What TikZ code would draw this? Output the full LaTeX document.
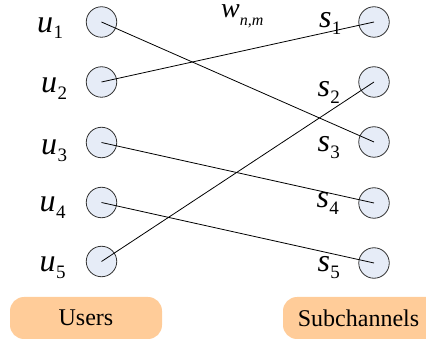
\documentclass[tikz,border=0pt]{standalone}
\usepackage{fontspec}
\setmainfont{Liberation Serif}
\definecolor{nodefill}{HTML}{E6ECF7}
\definecolor{nodeline}{HTML}{333333}
\definecolor{tagfill}{HTML}{FFCC99}
\newcommand\sublabel[3]{\textit{#1}\kern0.3pt\raisebox{-#3}{\fontsize{19}{19}\selectfont #2}}
\tikzset{
  vertex/.style={circle, draw=nodeline, fill=nodefill, line width=0.8pt, minimum size=30.5pt, inner sep=0pt},
  lbl/.style={anchor=base west, inner sep=0pt, font=\fontsize{32}{32}\selectfont},
  tagtext/.style={inner sep=0pt, font=\fontsize{24}{24}\selectfont},
  link/.style={line width=0.8pt, black}
}
\begin{document}
\begin{tikzpicture}[x=1pt, y=-1pt]
  \useasboundingbox (0,0) rectangle (426,339);
  % category tags
  \fill[tagfill, rounded corners=14pt] (10,297) rectangle (162,339);
  \node[tagtext] (users) at (86,318) {Users};
  \begin{scope}
    \clip (0,0) rectangle (426,339);
    \fill[tagfill, rounded corners=14pt] (283,297) rectangle (440,339);
  \end{scope}
  \node[tagtext] (subch) at (358.5,318) {Subchannels};
  % users and subchannels
  \foreach \i/\y in {1/22,2/82,3/142.5,4/202.5,5/261.5} {
    \node[vertex] (u\i) at (101.5,\y) {};
  }
  \foreach \i/\y in {1/22,2/82,3/142,4/203,5/263} {
    \node[vertex] (s\i) at (374,\y) {};
  }
  % assignments
  \draw[link] (u1.center) -- (s3.center);
  \draw[link] (u2.center) -- (s1.center);
  \draw[link] (u3.center) -- (s4.center);
  \draw[link] (u4.center) -- (s5.center);
  \draw[link] (u5.center) -- (s2.center);
  % labels
  \node[lbl] (lu1) at (37,32.3) {\sublabel{u}{1}{6.7pt}};
  \node[lbl] (lu2) at (41,93) {\sublabel{u}{2}{6.7pt}};
  \node[lbl] (lu3) at (41,155) {\sublabel{u}{3}{6.7pt}};
  \node[lbl] (lu4) at (39.5,212) {\sublabel{u}{4}{6.7pt}};
  \node[lbl] (lu5) at (39.5,272) {\sublabel{u}{5}{6.7pt}};
  \node[lbl] (ls1) at (319,28) {\sublabel{s}{1}{6.7pt}};
  \node[lbl] (ls2) at (317.5,96.7) {\sublabel{s}{2}{6.7pt}};
  \node[lbl] (ls3) at (317.5,152) {\sublabel{s}{3}{6.7pt}};
  \node[lbl] (ls4) at (316.5,208) {\sublabel{s}{4}{6.7pt}};
  \node[lbl] (ls5) at (317.5,272) {\sublabel{s}{5}{6.7pt}};
  \node[lbl, font=\fontsize{28}{28}\selectfont] (w) at (221,18)
    {\textit{w}\raisebox{-7.5pt}{\fontsize{16}{16}\selectfont\textit{n,m}}};
\end{tikzpicture}
\end{document}
